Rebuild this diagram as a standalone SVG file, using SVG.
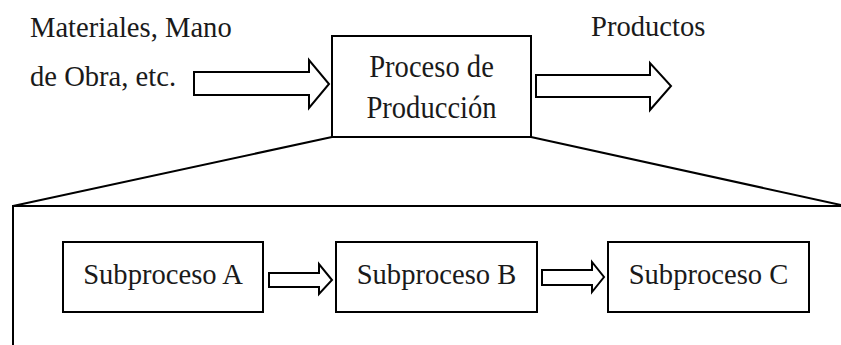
<svg xmlns="http://www.w3.org/2000/svg" width="841" height="345" viewBox="0 0 841 345">
  <style>
    .box { fill: #ffffff; stroke: #000000; stroke-width: 2; }
    .arrow { fill: #ffffff; stroke: #000000; stroke-width: 2; stroke-linejoin: miter; }
    .line { fill: none; stroke: #000000; stroke-width: 2; }
    .t { font-family: "Liberation Serif", "Times New Roman", serif; font-size: 28.6px; fill: #1a1a1a; }
    .c { text-anchor: middle; }
  </style>
  <rect width="841" height="345" fill="#ffffff"/>

  <!-- zoom-out frame: expanded view of the production process -->
  <g id="detail-frame">
    <path class="line" d="M13,345 L13,206 L841,206"/>
  </g>

  <g id="connectors">
    <!-- projection lines from the process box to the expanded frame -->
    <line class="line" x1="332" y1="137" x2="13" y2="206"/>
    <line class="line" x1="531" y1="137" x2="841" y2="205"/>
    <!-- input arrow -->
    <path class="arrow" d="M194,72 L309,72 L309,60 L329,84 L309,108 L309,95 L194,95 Z"/>
    <!-- output arrow -->
    <path class="arrow" d="M536,75 L650,75 L650,63 L671,86 L650,110 L650,97 L536,97 Z"/>
    <!-- A to B -->
    <path class="arrow" d="M269,273 L319,273 L319,264 L332,280 L319,294 L319,287 L269,287 Z"/>
    <!-- B to C -->
    <path class="arrow" d="M542,270 L592,270 L592,262 L604,277 L592,292 L592,285 L542,285 Z"/>
  </g>

  <g id="inputs">
    <text class="t" x="30" y="37">Materiales, Mano</text>
    <text class="t" x="30" y="86">de Obra, etc.</text>
  </g>

  <g id="outputs">
    <text class="t" x="591" y="36">Productos</text>
  </g>

  <g id="proceso-produccion">
    <rect class="box" x="332" y="36" width="199" height="101"/>
    <!-- box caption is set slightly taller than wide -->
    <text class="t c" transform="translate(431.5,77.3) scale(1,1.12)" x="0" y="0">Proceso de</text>
    <text class="t c" transform="translate(431.5,117.7) scale(1,1.12)" x="0" y="0">Producción</text>
  </g>

  <g id="subproceso-a">
    <rect class="box" x="63" y="242" width="200" height="70"/>
    <text class="t c" x="163" y="284">Subproceso A</text>
  </g>

  <g id="subproceso-b">
    <rect class="box" x="336" y="242" width="201" height="70"/>
    <text class="t c" x="436.5" y="284">Subproceso B</text>
  </g>

  <g id="subproceso-c">
    <rect class="box" x="608" y="242" width="201" height="70"/>
    <text class="t c" x="708.5" y="284">Subproceso C</text>
  </g>
</svg>
